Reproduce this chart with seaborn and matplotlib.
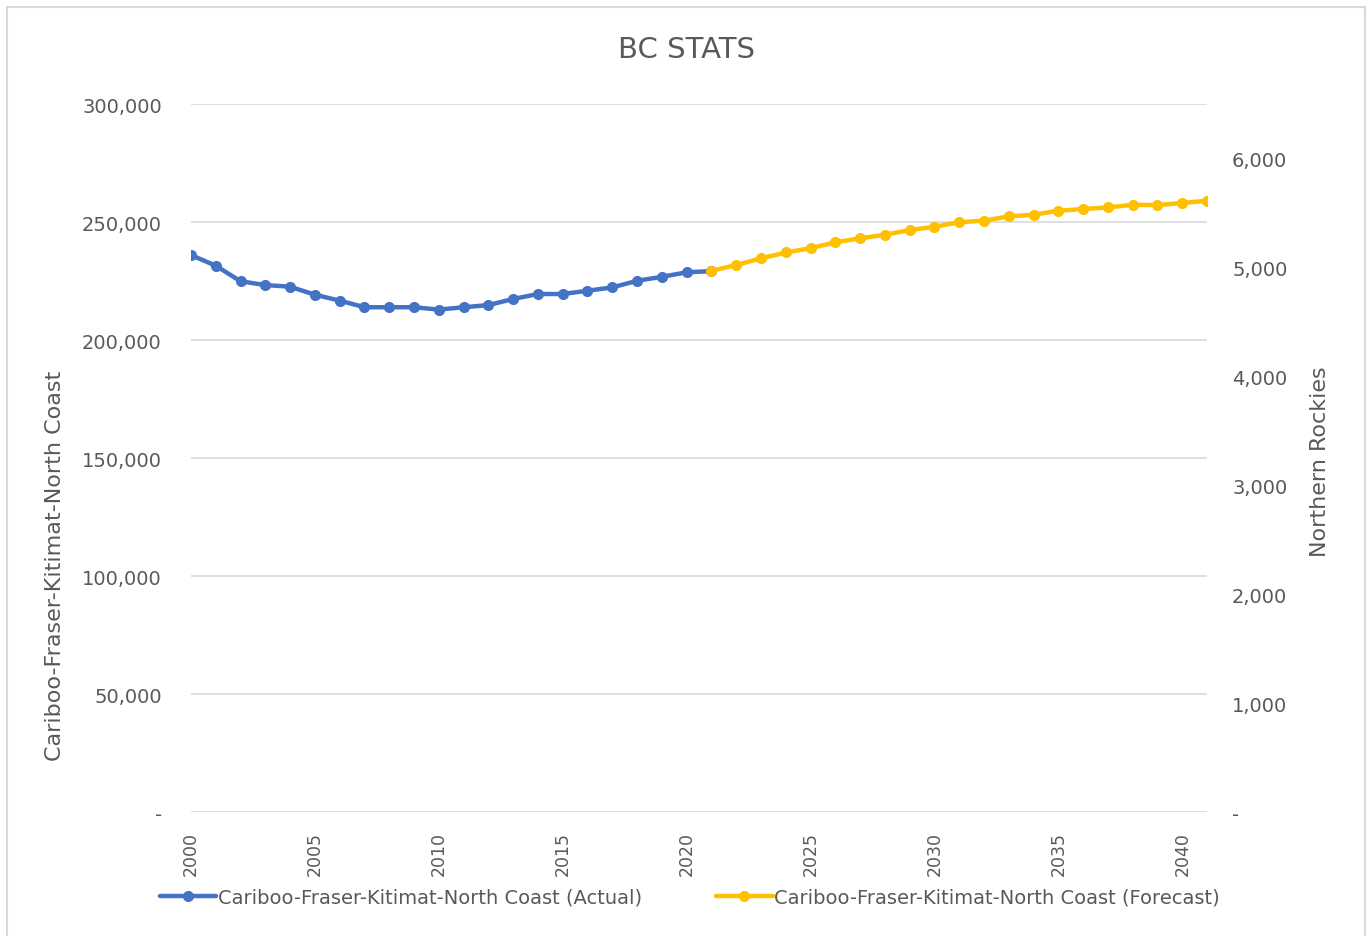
import pandas as pd
import seaborn as sns
import matplotlib.pyplot as plt
from matplotlib.ticker import FuncFormatter
from matplotlib.lines import Line2D
from matplotlib.patches import Rectangle

# actual population, 2000-2021
actual_years = list(range(2000, 2022))
actual_values = [236000, 231500, 224900, 223300, 222600, 219200, 216700, 213900,
                 213900, 213900, 212900, 213900, 214800, 217400, 219500, 219500,
                 220900, 222300, 225100, 226800, 228700, 229200]

# forecast population, 2021-2041
forecast_years = list(range(2021, 2042))
forecast_values = [229300, 231800, 234600, 237100, 238900, 241400, 243100, 244600,
                   246600, 248000, 249900, 250600, 252400, 253100, 254800, 255500,
                   256200, 257300, 257200, 258100, 259000]

left_ticks = [0, 50000, 100000, 150000, 200000, 250000, 300000]
right_ticks = [0, 1000, 2000, 3000, 4000, 5000, 6000]
x_ticks = [2000, 2005, 2010, 2015, 2020, 2025, 2030, 2035, 2040]

label_actual = "Cariboo-Fraser-Kitimat-North Coast (Actual)"
label_forecast = "Cariboo-Fraser-Kitimat-North Coast (Forecast)"

sns.set_style("white")
plt.rcParams['font.family'] = ['DejaVu Sans']

GREY = "#595959"
BLUE = "#4472C4"
GOLD = "#FFC000"

df_actual = pd.DataFrame({"year": actual_years, "value": actual_values})
df_forecast = pd.DataFrame({"year": forecast_years, "value": forecast_values})

fig = plt.figure(figsize=(13.69, 9.37), dpi=100)
ax = fig.add_axes([0.1395, 0.1323, 0.7422, 0.7556])

fig.patches.append(Rectangle((7 / 1369, -0.05), 1358 / 1369, 1.05 - 8 / 937,
                             transform=fig.transFigure, fill=False,
                             edgecolor="#d9d9d9", linewidth=1.5))

sns.lineplot(data=df_actual, x="year", y="value", ax=ax, color=BLUE,
             linewidth=3.2, marker="o", markersize=8, markeredgewidth=0)
sns.lineplot(data=df_forecast, x="year", y="value", ax=ax, color=GOLD,
             linewidth=3.2, marker="o", markersize=8, markeredgewidth=0)

ax.set_xlim(2000, 2041)
ax.set_ylim(0, 300000)
ax.set_yticks(left_ticks)
ax.set_xticks(x_ticks)
ax.yaxis.set_major_formatter(FuncFormatter(lambda v, p: "-" if v == 0 else f"{int(v):,}"))
ax.grid(axis="y", color="#d9d9d9", linewidth=1.2)
ax.grid(axis="x", visible=False)
for s in ax.spines.values():
    s.set_visible(False)
ax.tick_params(axis="y", length=0, pad=21, labelsize=14, labelcolor=GREY)
ax.tick_params(axis="x", length=0, pad=14, labelsize=12.5, labelcolor=GREY, labelrotation=90)
ax.set_xlabel("")
ax.set_ylabel("")

ax2 = ax.twinx()
ax2.set_ylim(0, 6500)
ax2.set_yticks(right_ticks)
ax2.yaxis.set_major_formatter(FuncFormatter(lambda v, p: "-" if v == 0 else f"{int(v):,}"))
for s in ax2.spines.values():
    s.set_visible(False)
ax2.tick_params(axis="y", length=0, pad=18, labelsize=14, labelcolor=GREY)

fig.text(686 / 1369, 1 - 50 / 937, "BC STATS", ha="center", va="center",
         fontsize=21, color=GREY)
fig.text(55 / 1369, 1 - 566 / 937, "Cariboo-Fraser-Kitimat-North Coast",
         rotation=90, ha="center", va="center", fontsize=16, color=GREY)
fig.text(1320 / 1369, 1 - 462 / 937, "Northern Rockies",
         rotation=90, ha="center", va="center", fontsize=16, color=GREY)

handles = [Line2D([], [], color=BLUE, linewidth=3.2, marker="o", markersize=8, markeredgewidth=0),
           Line2D([], [], color=GOLD, linewidth=3.2, marker="o", markersize=8, markeredgewidth=0)]
fig.legend(handles, [label_actual, label_forecast], loc="center",
           bbox_to_anchor=(690 / 1369, 1 - 898 / 937), ncol=2, frameon=False,
           fontsize=14, labelcolor=GREY, handlelength=2.9, handletextpad=0.1,
           columnspacing=3.8)

plt.savefig("out.png", dpi=100)
plt.close()
